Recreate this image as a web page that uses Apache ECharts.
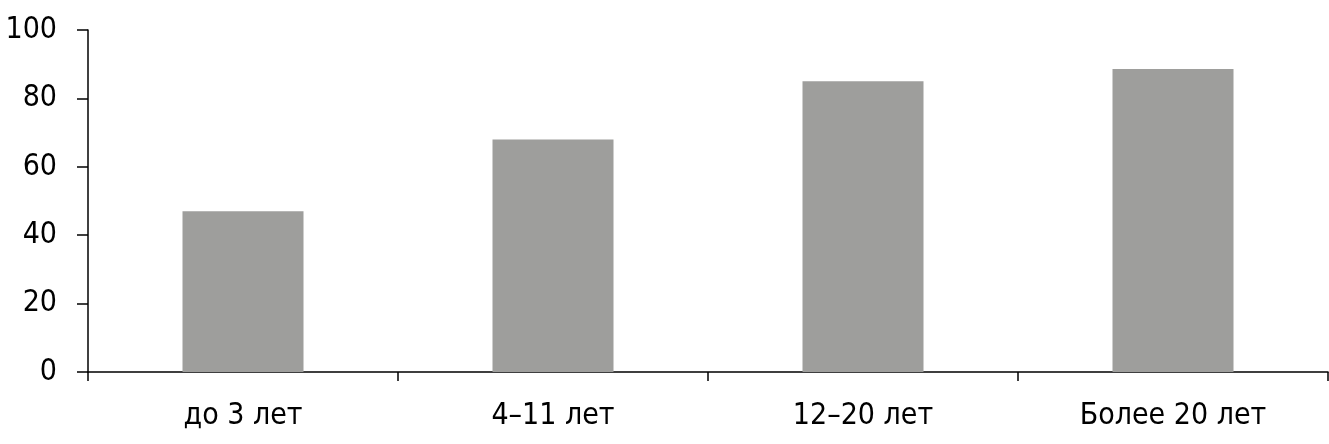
<!DOCTYPE html>
<html><head><meta charset="utf-8">
<script src="https://cdn.jsdelivr.net/npm/echarts@6/dist/echarts.min.js"></script>
<style>html,body{margin:0;padding:0;background:#fff}#c{width:1329px;height:444px}</style>
</head><body><div id="c"></div>
<script>
const categories = ['до 3 лет', '4–11 лет', '12–20 лет', 'Более 20 лет'];
const values = [47, 68, 85, 88.6];
const yTicks = [0, 20, 40, 60, 80, 100];

const font = '"Liberation Sans Narrow", "DejaVu Sans Condensed", sans-serif';
const chart = echarts.init(document.getElementById('c'), null, {renderer: 'canvas'});
chart.setOption({
  animation: false,
  grid: {left: 88, right: 1, top: 30, bottom: 72, containLabel: false},
  xAxis: {
    type: 'category', data: categories, boundaryGap: true,
    axisLine: {lineStyle: {color: '#000', width: 1.5}},
    axisTick: {show: true, length: 9, lineStyle: {color: '#000', width: 1.5}},
    axisLabel: {color: '#000', fontSize: 30, fontFamily: font, margin: 29}
  },
  yAxis: {
    type: 'value', min: yTicks[0], max: yTicks[yTicks.length - 1], interval: 20,
    axisLine: {show: true, lineStyle: {color: '#000', width: 1.5}},
    axisTick: {show: true, length: 11, lineStyle: {color: '#000', width: 1.5}},
    splitLine: {show: false},
    axisLabel: {color: '#000', fontSize: 30, fontFamily: font, margin: 31}
  },
  series: [{
    type: 'bar', data: values, barWidth: 121,
    itemStyle: {color: '#9e9e9c'}
  }]
});
</script></body></html>
